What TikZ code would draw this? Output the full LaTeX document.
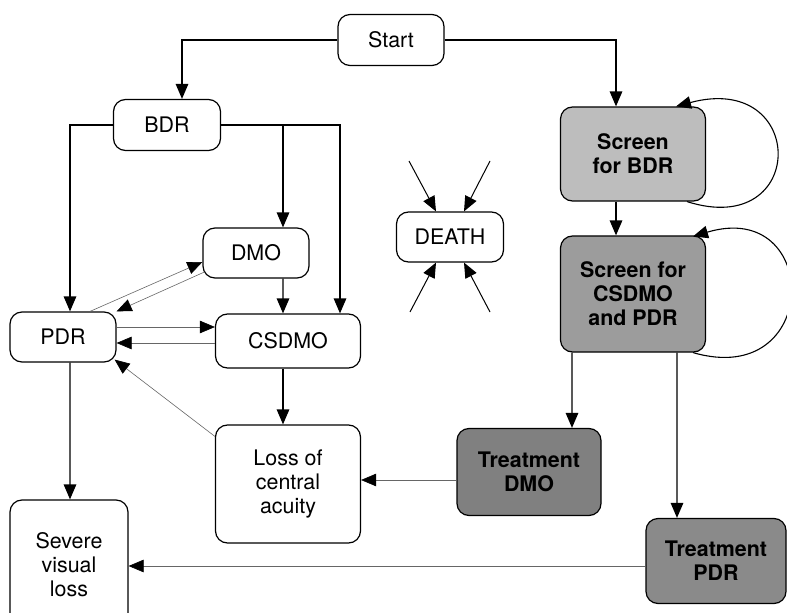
\documentclass[tikz,border=0pt]{standalone}
\usepackage{fontspec}
\setmainfont{TeX Gyre Heros}
\usetikzlibrary{calc}
\usetikzlibrary{arrows.meta}
\definecolor{screenA}{HTML}{BDBDBD}
\definecolor{screenB}{HTML}{9C9C9C}
\definecolor{treatA}{HTML}{808080}
\definecolor{treatB}{HTML}{8A8A8A}
\tikzset{
  stage/.style={draw, line width=1.2bp, rounded corners=12bp, align=center, inner sep=2bp, fill=white, font=\fontsize{21.5}{24}\selectfont},
  carestage/.style={stage, font=\fontsize{21.5}{24}\selectfont\bfseries},
  flow/.style={-{Triangle[length=15bp,width=12.5bp]}, line width=1.4bp},
  backflow/.style={-{Triangle[length=15bp,width=12.5bp,color=black]}, line width=0.6bp, draw=black!60}
}
\newcommand{\stage}[6]{\node[stage, minimum width=#4bp, minimum height=#5bp] (#1) at (#2, #3) {#6};}
\newcommand{\carestage}[7]{\node[carestage, fill=#7, minimum width=#4bp, minimum height=#5bp] (#1) at (#2, #3) {#6};}
\begin{document}
\begin{tikzpicture}[x=1bp, y=-1bp]
        \useasboundingbox (0,0) rectangle (787,613);
        % health states
        \stage{start}{391}{40}{106}{51}{Start}
        \stage{bdr}{167}{125}{107}{51}{BDR}
        \stage{dmo}{256}{253}{106}{50}{DMO}
        \stage{pdr}{63}{337}{106}{50}{PDR}
        \stage{csdmo}{288}{341}{145}{54}{CSDMO}
        \stage{loss}{288}{484}{145}{118}{Loss of\\central\\acuity}
        \stage{severe}{69}{565}{118}{130}{Severe\\visual\\loss}
        \stage{death}{450}{237}{107}{50}{DEATH}
        % screening and treatment
        \carestage{scrbdr}{633}{154}{145}{94}{Screen\\for BDR}{screenA}
        \carestage{scrcs}{633}{294}{145}{116}{Screen for\\CSDMO\\and PDR}{screenB}
        \carestage{trdmo}{529}{472}{144}{87}{Treatment\\DMO}{treatA}
        \carestage{trpdr}{716}{561}{140}{85}{Treatment\\PDR}{treatB}

        % from start
        \draw[flow] (start.west) -| ([xshift=15bp]bdr.north);
        \draw[flow] (start.east) -| ([xshift=-17bp]scrbdr.north);
        % from BDR
        \draw[flow] (bdr.west) -| ([xshift=7bp]pdr.north);
        \draw[flow] (bdr.east) -| ([xshift=52bp]csdmo.north);
        \coordinate (brk) at ([xshift=27bp]dmo.north |- bdr.east);
        \draw[flow] (brk) -- ([xshift=27bp]dmo.north);
        \draw[flow] ([xshift=27bp]dmo.south) -- ([xshift=-5bp]csdmo.north);
        % PDR links
        \draw[backflow] ($(pdr.north)+(27,0)$) -- ($(dmo.west)+(0,9)$);
        \draw[backflow] ($(dmo.west)+(2,19)$) -- (pdr.north east);
        \draw[backflow] ($(pdr.east)+(0,-10)$) -- ($(csdmo.west)+(0,-14)$);
        \draw[backflow] ($(csdmo.west)+(0,2)$) -- ($(pdr.east)+(0,6)$);
        \draw[backflow] ($(loss.north west)+(0,12)$) -- ($(pdr.south east)+(-2,-3)$);
        \draw[flow] ([xshift=-5bp]csdmo.south) -- ([xshift=-5bp]loss.north);
        \draw[flow] ([xshift=7bp]pdr.south) -- ([xshift=1bp]severe.north);
        % treatment results
        \draw[backflow] ($(trdmo.west)+(0,8)$) -- ($(loss.east)+(0,-4)$);
        \draw[backflow] ($(trpdr.west)+(0,5)$) -- ($(severe.east)+(0,1)$);
        % screening
        \draw[flow] ([xshift=-17bp]scrbdr.south) -- ([xshift=-17bp]scrcs.north);
        \draw[flow] ([xshift=-61bp]scrcs.south) -- ([xshift=43bp]trdmo.north);
        \draw[flow] ([xshift=44bp]scrcs.south) -- ([xshift=-39bp]trpdr.north);
        \draw[flow, line width=1.1bp] ($(scrbdr.south)+(54,0)$) .. controls (808,240) and (808,71) .. ($(scrbdr.north)+(43,0)$);
        \draw[flow, line width=1.1bp] ($(scrcs.south)+(60,0)$) .. controls (822,390) and (822,198) .. ($(scrcs.north)+(60,1)$);
        % death
        \coordinate (dnw) at (409,161);
        \coordinate (dne) at (490,161);
        \coordinate (dsw) at (410,312);
        \coordinate (dse) at (490,312);
        \draw[flow, line width=1bp] (dnw) -- ([xshift=-14bp]death.north);
        \draw[flow, line width=1bp] (dne) -- ([xshift=14bp]death.north);
        \draw[flow, line width=1bp] (dsw) -- ([xshift=-14bp]death.south);
        \draw[flow, line width=1bp] (dse) -- ([xshift=14bp]death.south);
\end{tikzpicture}
\end{document}
